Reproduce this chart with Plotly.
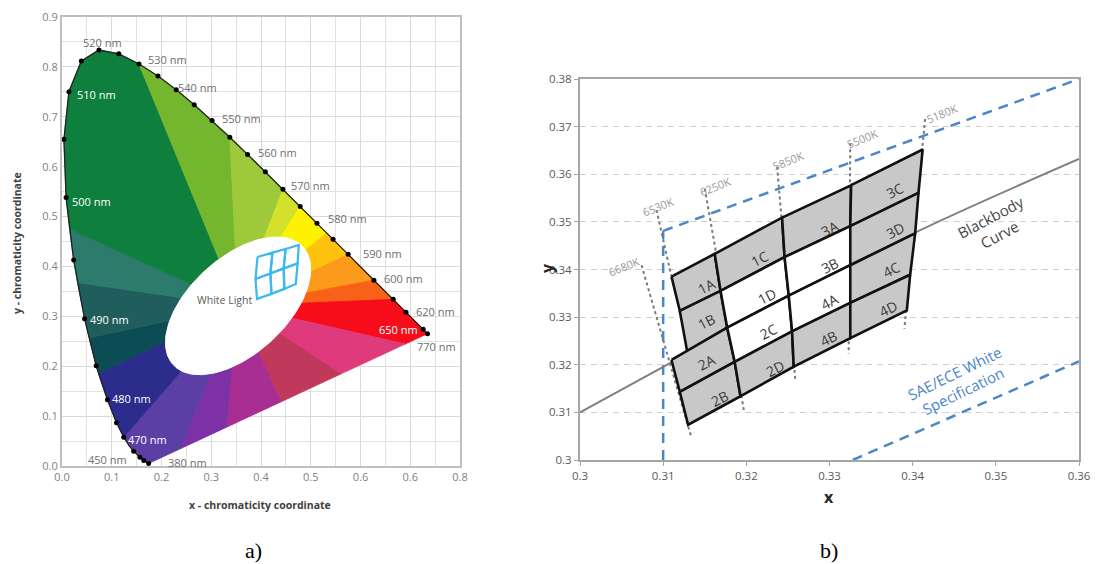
import numpy as np
import plotly.graph_objects as go

# ================= Panel a : CIE 1931 chromaticity diagram =================
locus_wl = [380, 440, 450, 460, 465, 470, 475, 480, 485, 490, 495, 500, 505, 510, 515, 520, 525,
            530, 535, 540, 545, 550, 555, 560, 565, 570, 575, 580, 585, 590, 595, 600, 605, 610,
            620, 630, 640, 650, 700]
locus_x = [0.1741, 0.1644, 0.1566, 0.1440, 0.1355, 0.1241, 0.1096, 0.0913, 0.0687, 0.0454, 0.0235,
           0.0082, 0.0039, 0.0139, 0.0389, 0.0743, 0.1142, 0.1547, 0.1929, 0.2296, 0.2658, 0.3016,
           0.3373, 0.3731, 0.4087, 0.4441, 0.4788, 0.5125, 0.5448, 0.5752, 0.6029, 0.6270, 0.6482,
           0.6658, 0.6915, 0.7079, 0.7190, 0.7260, 0.7347]
locus_y = [0.0050, 0.0109, 0.0177, 0.0297, 0.0399, 0.0578, 0.0868, 0.1327, 0.2007, 0.2950, 0.4127,
           0.5384, 0.6548, 0.7502, 0.8120, 0.8338, 0.8262, 0.8059, 0.7816, 0.7543, 0.7243, 0.6923,
           0.6589, 0.6245, 0.5896, 0.5547, 0.5202, 0.4866, 0.4544, 0.4242, 0.3965, 0.3725, 0.3514,
           0.3340, 0.3083, 0.2920, 0.2809, 0.2740, 0.2653]
dot_wl = [380, 440, 450, 460, 470, 475, 480, 485, 490, 495, 500, 505, 510, 515, 520, 525, 530, 535,
          540, 545, 550, 555, 560, 565, 570, 575, 580, 585, 590, 600, 610, 620, 650, 700]

# colour bands (fan from the white region towards locus / purple line)
band_colors = ["#5b3fa5", "#2b2c8c", "#0c4c54", "#1f5e5d", "#2d7b6d", "#0f7f3d", "#74b72e",
               "#9dc93b", "#d4e12c", "#fff200", "#ffc20f", "#fb9a1b", "#f86218", "#f70d1a",
               "#de3a7c", "#c0395a", "#a92e93", "#7e31a5"]
band_edge_x = [0.24, 0.1241, 0.0734, 0.0545, 0.0310, 0.0150, 0.1547, 0.3373, 0.4441, 0.4788,
               0.5320, 0.5752, 0.6270, 0.6658, 0.69, 0.56, 0.44, 0.33, 0.24]
band_edge_y = [0.0356, 0.0578, 0.1855, 0.2570, 0.3680, 0.4755, 0.8059, 0.6589, 0.5547, 0.5202,
               0.4672, 0.4242, 0.3725, 0.3340, 0.2445, 0.1842, 0.1285, 0.0774, 0.0356]
band_wl_lo = [0, 470, 484, 488, 493, 497.5, 530, 555, 570, 575, 583, 590, 600, 610, 0, 0, 0, 0]
band_wl_hi = [470, 484, 488, 493, 497.5, 530, 555, 570, 575, 583, 590, 600, 610, 999, 0, 0, 0, 0]
fan_center = (0.354, 0.321)

white_ellipse = dict(cx=0.354, cy=0.321, a=0.176, b=0.097, angle_deg=42)

wl_label_text = ["520 nm", "530 nm", "540 nm", "550 nm", "560 nm", "570 nm", "580 nm", "590 nm",
                 "600 nm", "620 nm", "650 nm", "770 nm", "510 nm", "500 nm", "490 nm", "480 nm",
                 "470 nm", "450 nm", "380 nm"]
wl_label_x = [0.082, 0.2124, 0.2725, 0.3607, 0.4329, 0.4996, 0.5731, 0.6433, 0.6866, 0.750, 0.6766,
              0.7535, 0.0687, 0.0587, 0.0954, 0.1389, 0.1723, 0.0908, 0.2525]
wl_label_y = [0.849, 0.8154, 0.758, 0.6956, 0.6293, 0.5629, 0.4952, 0.426, 0.3767, 0.3096, 0.2737,
              0.2399, 0.744, 0.531, 0.294, 0.1363, 0.0537, 0.013, 0.0076]
wl_label_white = [False] * 10 + [True, False, True, True, True, True, True, False, False]

# mini bin grid inside the white area (3 columns x 2 rows)
mini_row_x = [[0.393, 0.423, 0.4495, 0.476],
              [0.389, 0.419, 0.4455, 0.4735],
              [0.392, 0.421, 0.447, 0.470]]
mini_row_y = [[0.419, 0.4277, 0.435, 0.443],
              [0.375, 0.386, 0.396, 0.406],
              [0.335, 0.345, 0.355, 0.365]]

a_xticks = [0.0, 0.1, 0.2, 0.3, 0.4, 0.5, 0.6, 0.7, 0.8]
a_xtick_text = ["0.0", "0.1", "0.2", "0.3", "0.4", "0.5", "0.6", "0.6", "0.8"]
a_yticks = [0.0, 0.1, 0.2, 0.3, 0.4, 0.5, 0.6, 0.7, 0.8, 0.9]
a_ytick_text = ["0.0", "0.1", "0.2", "0.3", "0.4", "0.5", "0.6", "0.7", "0.8", "0.9"]

# ================= Panel b : LED white bins =================
node_lines = {
    "L0u": ([0.3110, 0.3120, 0.3129], [0.3385, 0.3313, 0.3227]),
    "L0l": ([0.3110, 0.3120, 0.3130], [0.3210, 0.3143, 0.3074]),
    "L1": ([0.3162, 0.3169, 0.3177, 0.3186, 0.3193], [0.3433, 0.3355, 0.3278, 0.3206, 0.3134]),
    "L2": ([0.3243, 0.3246, 0.3251, 0.3255, 0.3257], [0.3509, 0.3426, 0.3345, 0.3270, 0.3196]),
    "L3": ([0.3326, 0.3325, 0.3325, 0.3325, 0.3325], [0.3577, 0.3491, 0.3409, 0.3330, 0.3256]),
    "L4": ([0.3412, 0.3407, 0.3403, 0.3397, 0.3393], [0.3652, 0.3561, 0.3476, 0.3389, 0.3314]),
}
bin_names = ["1A", "1B", "2A", "2B", "1C", "1D", "2C", "2D",
             "3A", "3B", "4A", "4B", "3C", "3D", "4C", "4D"]
bin_corners = [
    [("L0u", 0), ("L1", 0), ("L1", 1), ("L0u", 1)],
    [("L0u", 1), ("L1", 1), ("L1", 2), ("L0u", 2)],
    [("L0l", 0), ("L1", 2), ("L1", 3), ("L0l", 1)],
    [("L0l", 1), ("L1", 3), ("L1", 4), ("L0l", 2)],
    [("L1", 0), ("L2", 0), ("L2", 1), ("L1", 1)],
    [("L1", 1), ("L2", 1), ("L2", 2), ("L1", 2)],
    [("L1", 2), ("L2", 2), ("L2", 3), ("L1", 3)],
    [("L1", 3), ("L2", 3), ("L2", 4), ("L1", 4)],
    [("L2", 0), ("L3", 0), ("L3", 1), ("L2", 1)],
    [("L2", 1), ("L3", 1), ("L3", 2), ("L2", 2)],
    [("L2", 2), ("L3", 2), ("L3", 3), ("L2", 3)],
    [("L2", 3), ("L3", 3), ("L3", 4), ("L2", 4)],
    [("L3", 0), ("L4", 0), ("L4", 1), ("L3", 1)],
    [("L3", 1), ("L4", 1), ("L4", 2), ("L3", 2)],
    [("L3", 2), ("L4", 2), ("L4", 3), ("L3", 3)],
    [("L3", 3), ("L4", 3), ("L4", 4), ("L3", 4)],
]
bin_white = ["1D", "2C", "3B", "4A"]
bin_label_x = [0.31515, 0.31523, 0.31515, 0.31675, 0.32164, 0.32244, 0.32264, 0.32344,
               0.33004, 0.33004, 0.33004, 0.32984, 0.33786, 0.33786, 0.33746, 0.33706]
bin_label_y = [0.33639, 0.32904, 0.32043, 0.31296, 0.34235, 0.33429, 0.32694, 0.31925,
               0.34865, 0.34094, 0.33324, 0.32555, 0.35669, 0.34829, 0.33990, 0.33185]

blackbody_x = [0.300, 0.311, 0.325, 0.340, 0.360]
blackbody_y = [0.3100, 0.3205, 0.3340, 0.3475, 0.3632]

sae_lines = [([0.3100, 0.3100], [0.3000, 0.3481]),
             ([0.3100, 0.3600], [0.3481, 0.3800]),
             ([0.3328, 0.3600], [0.3000, 0.3207])]

cct_names = ["6680K", "6530K", "6250K", "5850K", "5500K", "5180K"]
cct_line_x = [[0.3074, 0.3134], [0.3092, 0.3110], [0.3150, 0.3197],
              [0.3237, 0.3259], [0.3325, 0.3323], [0.3415, 0.3390]]
cct_line_y = [[0.3409, 0.3047], [0.3525, 0.3385], [0.3570, 0.3105],
              [0.3616, 0.3166], [0.3665, 0.3223], [0.3716, 0.3276]]
cct_label_x = [0.30529, 0.30942, 0.31623, 0.32505, 0.33394, 0.34351]
cct_label_y = [0.34059, 0.35319, 0.35753, 0.36285, 0.36755, 0.37265]

b_xticks = [0.30, 0.31, 0.32, 0.33, 0.34, 0.35, 0.36]
b_xtick_text = ["0.3", "0.31", "0.32", "0.33", "0.34", "0.35", "0.36"]
b_yticks = [0.30, 0.31, 0.32, 0.33, 0.34, 0.35, 0.36, 0.37, 0.38]
b_ytick_text = ["0.3", "0.31", "0.32", "0.33", "0.34", "0.35", "0.36", "0.37", "0.38"]

# =====================================================================
# The page body has an 8px margin: size the figure so it fits the 1099x564 window,
# and convert window pixel positions to paper fractions.
BODY = 8
FIG_W, FIG_H = 1099 - BODY, 564 - BODY


def pxx(px):
    return (px - BODY) / FIG_W


def pxy(py):
    return 1 - (py - BODY) / FIG_H


fig = go.Figure()
FONT = "Open Sans"

# ---- panel a: colour bands
for i, col in enumerate(band_colors):
    xs = [fan_center[0], band_edge_x[i]]
    ys = [fan_center[1], band_edge_y[i]]
    for w, lx, ly in zip(locus_wl, locus_x, locus_y):
        if band_wl_lo[i] < w < band_wl_hi[i]:
            xs.append(lx)
            ys.append(ly)
    xs += [band_edge_x[i + 1], fan_center[0]]
    ys += [band_edge_y[i + 1], fan_center[1]]
    fig.add_trace(go.Scatter(x=xs, y=ys, mode="lines", fill="toself", fillcolor=col,
                             line=dict(color=col, width=0.8), hoverinfo="skip",
                             xaxis="x", yaxis="y"))

# white ellipse
t = np.linspace(0, 2 * np.pi, 200)
th = np.deg2rad(white_ellipse["angle_deg"])
ex = white_ellipse["cx"] + white_ellipse["a"] * np.cos(t) * np.cos(th) - white_ellipse["b"] * np.sin(t) * np.sin(th)
ey = white_ellipse["cy"] + white_ellipse["a"] * np.cos(t) * np.sin(th) + white_ellipse["b"] * np.sin(t) * np.cos(th)
fig.add_trace(go.Scatter(x=ex, y=ey, mode="lines", fill="toself", fillcolor="white",
                         line=dict(color="white", width=1), hoverinfo="skip", xaxis="x", yaxis="y"))

# mini blue bins
for r in range(2):
    for c in range(3):
        xs = [mini_row_x[r][c], mini_row_x[r][c + 1], mini_row_x[r + 1][c + 1], mini_row_x[r + 1][c], mini_row_x[r][c]]
        ys = [mini_row_y[r][c], mini_row_y[r][c + 1], mini_row_y[r + 1][c + 1], mini_row_y[r + 1][c], mini_row_y[r][c]]
        fig.add_trace(go.Scatter(x=xs, y=ys, mode="lines", line=dict(color="#3cb8f0", width=2.2),
                                 hoverinfo="skip", xaxis="x", yaxis="y"))

# locus outline + dots
fig.add_trace(go.Scatter(x=locus_x, y=locus_y, mode="lines", line=dict(color="#222222", width=1.3),
                         hoverinfo="skip", xaxis="x", yaxis="y"))
dx = [x for w, x in zip(locus_wl, locus_x) if w in dot_wl]
dy = [y for w, y in zip(locus_wl, locus_y) if w in dot_wl]
fig.add_trace(go.Scatter(x=dx, y=dy, mode="markers", marker=dict(color="black", size=5),
                         hoverinfo="skip", xaxis="x", yaxis="y"))

annotations = []


def note(**kw):
    kw.setdefault("showarrow", False)
    kw.setdefault("xanchor", "center")
    kw.setdefault("yanchor", "middle")
    annotations.append(kw)


for txt, x, y, wht in zip(wl_label_text, wl_label_x, wl_label_y, wl_label_white):
    note(x=x, y=y, xref="x", yref="y", text=txt,
         font=dict(family=FONT, size=11, color="white" if wht else "#6e6e6e"))
note(x=0.326, y=0.333, xref="x", yref="y", text="White Light",
     font=dict(family=FONT, size=10.5, color="#5a5a5a"))
note(x=pxx(260), y=pxy(505), xref="paper", yref="paper", text="<b>x - chromaticity coordinate</b>",
     font=dict(family=FONT, size=10.5, color="#404040"))
note(x=pxx(17), y=pxy(243), xref="paper", yref="paper", textangle=-90,
     text="<b>y - chromaticity coordinate</b>", font=dict(family=FONT, size=10.5, color="#404040"))

# ---- panel b
for xs, ys in sae_lines:
    fig.add_trace(go.Scatter(x=xs, y=ys, mode="lines",
                             line=dict(color="#4a86c8", width=2.5, dash="10px,7px"),
                             hoverinfo="skip", xaxis="x2", yaxis="y2"))
fig.add_trace(go.Scatter(x=blackbody_x, y=blackbody_y, mode="lines", line=dict(color="#7f7f7f", width=2, shape="spline"),
                         hoverinfo="skip", xaxis="x2", yaxis="y2"))
for xs, ys in zip(cct_line_x, cct_line_y):
    fig.add_trace(go.Scatter(x=xs, y=ys, mode="lines", line=dict(color="#7a7a7a", width=2, dash="dot"),
                             hoverinfo="skip", xaxis="x2", yaxis="y2"))
for name, corners in zip(bin_names, bin_corners):
    xs = [node_lines[l][0][k] for l, k in corners] + [node_lines[corners[0][0]][0][corners[0][1]]]
    ys = [node_lines[l][1][k] for l, k in corners] + [node_lines[corners[0][0]][1][corners[0][1]]]
    fill = "white" if name in bin_white else "#c8c8c8"
    fig.add_trace(go.Scatter(x=xs, y=ys, mode="lines", fill="toself", fillcolor=fill,
                             line=dict(color="#111111", width=2.6), hoverinfo="skip",
                             xaxis="x2", yaxis="y2"))
for name, x, y in zip(bin_names, bin_label_x, bin_label_y):
    note(x=x, y=y, xref="x2", yref="y2", text=name, textangle=-27,
         font=dict(family=FONT, size=14, color="#3a3a3a"))
for name, x, y in zip(cct_names, cct_label_x, cct_label_y):
    note(x=x, y=y, xref="x2", yref="y2", text=name, textangle=-22,
         font=dict(family=FONT, size=11, color="#9a9a9a"))
note(x=0.3499, y=0.3492, xref="x2", yref="y2", text="Blackbody<br>Curve", textangle=-28,
     font=dict(family=FONT, size=15, color="#474747"))
note(x=0.3456, y=0.3163, xref="x2", yref="y2", text="SAE/ECE White<br>Specification", textangle=-26,
     font=dict(family=FONT, size=15, color="#4a86c8"))
note(x=pxx(829), y=pxy(497), xref="paper", yref="paper", text="<b>x</b>",
     font=dict(family=FONT, size=16, color="#262626"))
note(x=pxx(547), y=pxy(268), xref="paper", yref="paper", text="<b>y</b>", textangle=-90,
     font=dict(family=FONT, size=16, color="#262626"))

# captions
note(x=pxx(253), y=pxy(550), xref="paper", yref="paper", text="a)",
     font=dict(family="Liberation Serif", size=22, color="black"))
note(x=pxx(829), y=pxy(550), xref="paper", yref="paper", text="b)",
     font=dict(family="Liberation Serif", size=22, color="black"))

fig.update_layout(
    width=FIG_W, height=FIG_H, margin=dict(l=0, r=0, t=0, b=0, pad=0), autosize=False,
    paper_bgcolor="white", plot_bgcolor="white", showlegend=False,
    annotations=annotations,
    xaxis=dict(domain=[pxx(62), pxx(460)], range=[0, 0.8], tickvals=a_xticks, ticktext=a_xtick_text,
               showgrid=True, gridcolor="#d9d9d9", gridwidth=1, automargin=False, ticklabeloverflow="allow",
               minor=dict(dtick=0.05, tick0=0, showgrid=True, gridcolor="#e2e2e2"),
               showline=True, mirror=True, linecolor="#bfbfbf", linewidth=2, zeroline=False,
               tickfont=dict(family=FONT, size=11, color="#7f7f7f"), anchor="y"),
    yaxis=dict(domain=[pxy(466), pxy(17)], range=[0, 0.9], tickvals=a_yticks,
               ticktext=a_ytick_text, showgrid=True, gridcolor="#d9d9d9", gridwidth=1, automargin=False,
               ticklabeloverflow="allow",
               minor=dict(dtick=0.05, tick0=0, showgrid=True, gridcolor="#e2e2e2"),
               showline=True, mirror=True, linecolor="#bfbfbf", linewidth=2, zeroline=False,
               tickfont=dict(family=FONT, size=11, color="#7f7f7f"), anchor="x"),
    xaxis2=dict(domain=[pxx(580), pxx(1079)], range=[0.3, 0.36], tickvals=b_xticks, ticktext=b_xtick_text,
                showgrid=False, showline=True, mirror=True, linecolor="#a6a6a6", linewidth=2, automargin=False,
                ticklabeloverflow="allow",
                ticks="outside", ticklen=4, tickcolor="#a6a6a6", zeroline=False,
                tickfont=dict(family=FONT, size=11.5, color="#595959"), anchor="y2"),
    yaxis2=dict(domain=[pxy(460), pxy(79)], range=[0.3, 0.38], tickvals=b_yticks,
                ticktext=b_ytick_text, showgrid=True, gridcolor="#cfcfcf", griddash="6px,5px", automargin=False,
                ticklabeloverflow="allow",
                showline=True, mirror=True, linecolor="#a6a6a6", linewidth=2,
                ticks="outside", ticklen=4, tickcolor="#a6a6a6", zeroline=False,
                tickfont=dict(family=FONT, size=11.5, color="#595959"), anchor="x2"),
)

fig.write_html("out.html")
